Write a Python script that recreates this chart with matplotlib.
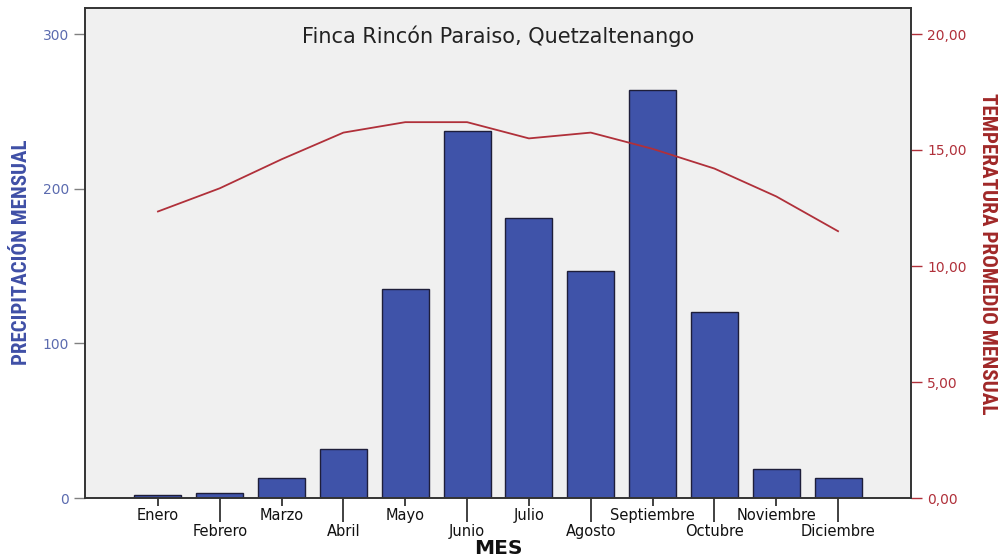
import matplotlib
matplotlib.use("Agg")
import matplotlib.pyplot as plt
from matplotlib import font_manager
import numpy as np

meses = ["Enero", "Febrero", "Marzo", "Abril", "Mayo", "Junio", "Julio",
         "Agosto", "Septiembre", "Octubre", "Noviembre", "Diciembre"]
precipitacion = [2, 3, 13, 32, 135, 237, 181, 147, 264, 120, 19, 13]
temperatura = [12.35, 13.35, 14.6, 15.75, 16.2, 16.2, 15.5, 15.75, 15.05, 14.2, 13.0, 11.5]
titulo = "Finca Rincón Paraiso, Quetzaltenango"

plt.rcParams['font.family'] = ['DejaVu Sans']


def _is_bold(w):
    if isinstance(w, str):
        return w.lower() in ('bold', 'heavy', 'black', 'extra bold', 'demibold', 'semibold')
    return w >= 600


fonts = font_manager.fontManager.ttflist
narrow_candidates = ['Liberation Sans Narrow', 'Arial Narrow', 'Roboto Condensed', 'Archivo Narrow',
                     'PT Sans Narrow', 'Open Sans Condensed', 'Fira Sans Condensed',
                     'IBM Plex Sans Condensed', 'Encode Sans Condensed', 'Asap Condensed',
                     'Pragati Narrow', 'Barlow Condensed', 'Sofia Sans Condensed', 'Oswald']
narrow = 'DejaVu Sans'
for n in narrow_candidates:
    if any(f.name == n and _is_bold(f.weight) for f in fonts):
        narrow = n
        break

W, H = 1001, 558
fig = plt.figure(figsize=(W / 100, H / 100), dpi=100)
ax = fig.add_axes([85 / W, 60 / H, 826 / W, 490 / H])
ax.set_facecolor("#F0F0F0")
x = np.arange(len(meses))
ax.bar(x, precipitacion, width=0.76, color="#3F53A9", edgecolor="#1E1E3A", linewidth=1.0, zorder=2)
ax.set_xlim(-1.18, len(meses) - 1 + 1.18)
ax.set_ylim(0, 300 * 490 / 464)
ax.set_yticks([0, 100, 200, 300])
ax.tick_params(axis='y', colors="#808080", labelcolor="#5B6BAF", length=8, width=1, labelsize=10)

# staggered x labels
ax.set_xticks(x[0::2])
ax.set_xticklabels([meses[i] for i in range(0, 12, 2)])
ax.set_xticks(x[1::2], minor=True)
ax.set_xticklabels([meses[i] for i in range(1, 12, 2)], minor=True)
ax.tick_params(axis='x', which='major', length=5.8, width=1.3, color="#333333",
               labelsize=10.5, pad=1.5, labelcolor="#111111")
ax.tick_params(axis='x', which='minor', length=17.3, width=1.3, color="#333333",
               labelsize=10.5, pad=1.5, labelcolor="#111111")

for s in ax.spines.values():
    s.set_color("#333333")
    s.set_linewidth(1.2)

ax.text(0.5, 0.943, titulo, transform=ax.transAxes, ha='center', va='center',
        fontsize=15, color="#222222")

ax2 = ax.twinx()
ax2.plot(x, temperatura, color="#B0303A", linewidth=1.3, zorder=3)
ax2.set_ylim(0, 20 * 490 / 464)
ax2.set_yticks([0, 5, 10, 15, 20])
ax2.set_yticklabels(["0,00", "5,00", "10,00", "15,00", "20,00"])
ax2.tick_params(axis='y', colors="#B0303A", labelcolor="#B0303A", length=8, width=1, labelsize=10)
for s in ax2.spines.values():
    s.set_color("#333333")
    s.set_linewidth(1.2)

lab_l = fig.text(22 / W, 1 - 252 / H, "PRECIPITACIÓN MENSUAL", family=[narrow, 'DejaVu Sans'],
                 fontweight='bold', fontsize=14, color="#3F4FA6", rotation=90,
                 ha='center', va='center')
lab_r = fig.text(988 / W, 1 - 254 / H, "TEMPERATURA PROMEDIO MENSUAL", family=[narrow, 'DejaVu Sans'],
                 fontweight='bold', fontsize=14, color="#A02828", rotation=-90,
                 ha='center', va='center')
fig.text(498 / W, 1 - 549 / H, "MES", fontweight='bold', fontsize=14.5, color="#111111",
         ha='center', va='center')

# fit axis-title lengths to the reference extents
fig.canvas.draw()
r = fig.canvas.get_renderer()
for t, target in ((lab_l, 225), (lab_r, 322)):
    h = t.get_window_extent(r).height
    t.set_fontsize(t.get_fontsize() * target / h)

fig.savefig("out.png", dpi=100)
